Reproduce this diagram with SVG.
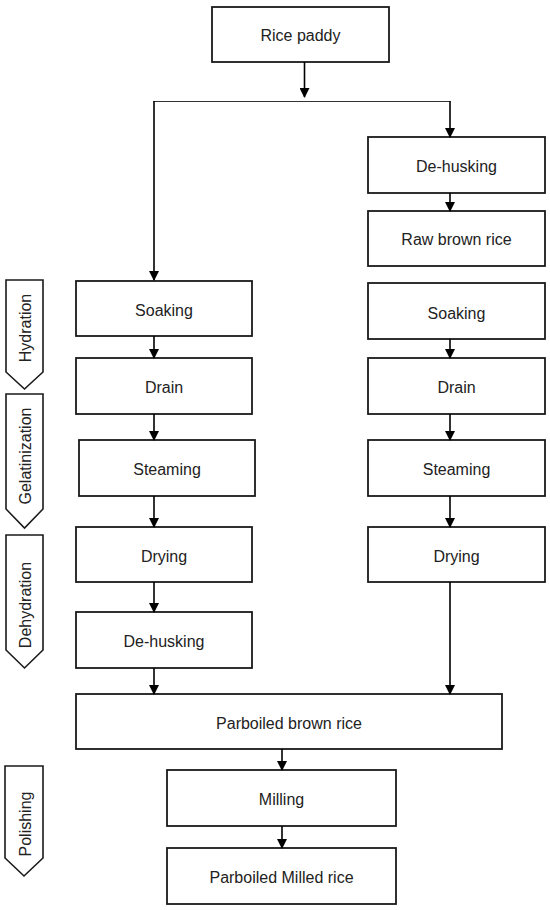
<svg xmlns="http://www.w3.org/2000/svg" width="550" height="910" viewBox="0 0 550 910">
<style>
.box{fill:#fff;stroke:#1a1a1a;stroke-width:1.8}
.t{font-family:"Liberation Sans",Arial,sans-serif;font-size:16px;fill:#222;text-anchor:middle;dominant-baseline:central}
.c{fill:none;stroke:#000;stroke-width:1.6}
.thin{fill:none;stroke:#333;stroke-width:1.1}
.tab{fill:#fff;stroke:#1a1a1a;stroke-width:1.6}
</style>
<defs>
<marker id="ah" markerWidth="10" markerHeight="10" refX="9" refY="5" orient="auto" markerUnits="userSpaceOnUse">
<path d="M0,0 L10,5 L0,10 Z" fill="#000"/>
</marker>
</defs>
<rect width="550" height="910" fill="#fff"/>
<g id="tab-hydration"><path class="tab" d="M6,280 H43 V372 L24.5,389 L6,372 Z"/><text class="t" transform="translate(25,328) rotate(-90)">Hydration</text></g>
<g id="tab-gelatinization"><path class="tab" d="M6,394 H43 V509 L24.5,528 L6,509 Z"/><text class="t" transform="translate(25,456) rotate(-90)">Gelatinization</text></g>
<g id="tab-dehydration"><path class="tab" d="M6,535 H43 V650 L24.5,668 L6,650 Z"/><text class="t" transform="translate(25,605) rotate(-90)">Dehydration</text></g>
<g id="tab-polishing"><path class="tab" d="M5,766 H43 V858 L24,876 L5,858 Z"/><text class="t" transform="translate(25,824) rotate(-90)">Polishing</text></g>

<g id="n-rice-paddy"><rect class="box" x="212" y="7" width="177" height="55"/><text class="t" x="300.5" y="35">Rice paddy</text></g>
<g id="n-dehusk-r"><rect class="box" x="368" y="137" width="177" height="56"/><text class="t" x="456.5" y="166">De-husking</text></g>
<g id="n-raw-brown"><rect class="box" x="368" y="211" width="177" height="55"/><text class="t" x="456.5" y="239">Raw brown rice</text></g>
<g id="n-soak-l"><rect class="box" x="76" y="281" width="176" height="55"/><text class="t" x="164" y="310">Soaking</text></g>
<g id="n-drain-l"><rect class="box" x="76" y="358" width="176" height="56"/><text class="t" x="164" y="387">Drain</text></g>
<g id="n-steam-l"><rect class="box" x="79" y="440" width="176" height="56"/><text class="t" x="167" y="469">Steaming</text></g>
<g id="n-dry-l"><rect class="box" x="76" y="527" width="176" height="55"/><text class="t" x="164" y="556">Drying</text></g>
<g id="n-dehusk-l"><rect class="box" x="76" y="612" width="176" height="56"/><text class="t" x="164" y="641">De-husking</text></g>
<g id="n-soak-r"><rect class="box" x="368" y="283" width="177" height="56"/><text class="t" x="456.5" y="313">Soaking</text></g>
<g id="n-drain-r"><rect class="box" x="368" y="358" width="177" height="56"/><text class="t" x="456.5" y="387">Drain</text></g>
<g id="n-steam-r"><rect class="box" x="368" y="440" width="177" height="56"/><text class="t" x="456.5" y="469">Steaming</text></g>
<g id="n-dry-r"><rect class="box" x="368" y="527" width="177" height="55"/><text class="t" x="456.5" y="556">Drying</text></g>
<g id="n-pbr"><rect class="box" x="76" y="694" width="426" height="55"/><text class="t" x="289" y="723">Parboiled brown rice</text></g>
<g id="n-milling"><rect class="box" x="167" y="770" width="229" height="56"/><text class="t" x="281.5" y="799">Milling</text></g>
<g id="n-pmr"><rect class="box" x="167" y="848" width="229" height="56"/><text class="t" x="281.5" y="877">Parboiled Milled rice</text></g>

<g id="connectors">
<line class="c" x1="304.5" y1="62" x2="304.5" y2="97" marker-end="url(#ah)"/>
<line class="thin" x1="153.5" y1="101.5" x2="450.5" y2="101.5"/>
<line class="c" x1="154" y1="101" x2="154" y2="280" marker-end="url(#ah)"/>
<line class="c" x1="450" y1="101" x2="450" y2="137" marker-end="url(#ah)"/>
<line class="c" x1="450" y1="193" x2="450" y2="211" marker-end="url(#ah)"/>
<line class="c" x1="154" y1="336" x2="154" y2="358" marker-end="url(#ah)"/>
<line class="c" x1="154" y1="414" x2="154" y2="440" marker-end="url(#ah)"/>
<line class="c" x1="154" y1="496" x2="154" y2="527" marker-end="url(#ah)"/>
<line class="c" x1="154" y1="582" x2="154" y2="612" marker-end="url(#ah)"/>
<line class="c" x1="154" y1="668" x2="154" y2="694" marker-end="url(#ah)"/>
<line class="c" x1="450" y1="339" x2="450" y2="358" marker-end="url(#ah)"/>
<line class="c" x1="450" y1="414" x2="450" y2="440" marker-end="url(#ah)"/>
<line class="c" x1="450" y1="496" x2="450" y2="527" marker-end="url(#ah)"/>
<line class="c" x1="450" y1="582" x2="450" y2="694" marker-end="url(#ah)"/>
<line class="c" x1="282" y1="749" x2="282" y2="770" marker-end="url(#ah)"/>
<line class="c" x1="282" y1="826" x2="282" y2="848" marker-end="url(#ah)"/>
</g>
</svg>
